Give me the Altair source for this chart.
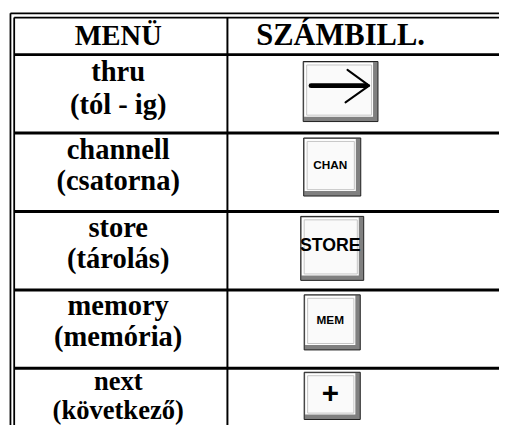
import altair as alt
import pandas as pd

# ---------------- data (table content) ----------------
headers = ["MENÜ", "SZÁMBILL."]
menu_en = ["thru", "channell", "store", "memory", "next"]
menu_hu = ["(tól - ig)", "(csatorna)", "(tárolás)", "(memória)", "(következő)"]
key_labels = ["", "CHAN", "STORE", "MEM", "+"]   # first key shows an arrow symbol

# ---------------- layout (page pixels) ----------------
W, H = 499, 417
OX, OY = 8, 8
X_OUT, X_IN = 10.5, 14.3
Y_OUT, Y_IN = 10, 14.3
X_RIGHT, Y_BOTTOM = 530, 450
HEAD_BOTTOM = 52
ROW_H = 79.7
DIV_X = 231
COL1_CX = 120
COL2_CX = 346
HEAD_BASE = 42
HEAD_FS = [29, 31]
row_fs = [29, 29, 29, 29, 27]
line1_off = [27, 26, 26, 26, 22]
line2_off = [60, 58, 57, 57, 51]
key_x0 = [308, 308.5, 305.5, 309, 309]
key_w = [76, 58, 64, 57, 57]
key_top_off = [7, 5, 5, 5, 4]
key_h = [61, 59, 65, 56, 48]
key_font = [0, 12, 18, 12, 30]

xs = alt.Scale(domain=[OX, OX + W], range=[0, W], nice=False, zero=False)
ys = alt.Scale(domain=[OY, OY + H], range=[0, H], nice=False, zero=False)

def enc_xy(**kw):
    out = {}
    for k, v in kw.items():
        if k == "x":
            out[k] = alt.X(v, type="quantitative", scale=xs, axis=None)
        elif k == "x2":
            out[k] = alt.X2(v)
        elif k == "y":
            out[k] = alt.Y(v, type="quantitative", scale=ys, axis=None)
        else:
            out[k] = alt.Y2(v)
    return out

def row_top(i):
    return HEAD_BOTTOM + i * ROW_H

# ---------------- grid lines ----------------
segs = []
segs.append(dict(x=X_OUT, x2=X_RIGHT, y=Y_OUT, y2=Y_OUT, w=1.8))
segs.append(dict(x=X_IN, x2=X_RIGHT, y=Y_IN, y2=Y_IN, w=1.8))
segs.append(dict(x=X_OUT, x2=X_OUT, y=Y_OUT, y2=Y_BOTTOM, w=1.8))
segs.append(dict(x=X_IN, x2=X_IN, y=Y_IN, y2=Y_BOTTOM, w=1.8))
segs.append(dict(x=DIV_X, x2=DIV_X, y=Y_IN, y2=Y_BOTTOM, w=2))
for i in range(len(menu_en)):
    yy = row_top(i)
    segs.append(dict(x=X_IN, x2=X_RIGHT, y=yy, y2=yy, w=3))

# ---------------- keys ----------------
boxes = []
for i, lab in enumerate(key_labels):
    x0 = key_x0[i]
    x1 = x0 + key_w[i]
    y0 = row_top(i) + key_top_off[i]
    y1 = y0 + key_h[i]
    boxes.append(dict(label=lab, x0=x0, x1=x1, y0=y0, y1=y1,
                      cx=(x0 + 1 + x1 - 5) / 2, cy=(y0 + 1 + y1 - 5) / 2,
                      fs=key_font[i]))
bdf = pd.DataFrame(boxes)
bdf["hx0"] = bdf.x0 + 1
bdf["hx1"] = bdf.x1 - 5
bdf["hy0"] = bdf.y0 + 1
bdf["hy1"] = bdf.y1 - 5
bdf["fx0"] = bdf.x0 + 3.5
bdf["fx1"] = bdf.x1 - 6.5
bdf["fy0"] = bdf.y0 + 3.5
bdf["fy1"] = bdf.y1 - 6.5

# arrow symbol on the first key (relative to its face)
ax0, ax1 = boxes[0]["x0"], boxes[0]["x1"]
acy = boxes[0]["cy"] - 4
arrow = [
    dict(x=ax0 + 8, x2=ax1 - 12, y=acy, y2=acy, w=5),
    dict(x=ax1 - 9, x2=ax1 - 31, y=acy, y2=acy - 16, w=2),
    dict(x=ax1 - 9, x2=ax1 - 33, y=acy, y2=acy + 17, w=2),
]

lines_df = pd.DataFrame(segs)
arrow_df = pd.DataFrame(arrow)

rules = alt.Chart(lines_df).mark_rule(color="black", strokeCap="butt").encode(
    **enc_xy(x="x", x2="x2", y="y", y2="y2"),
    strokeWidth=alt.StrokeWidth("w:Q", scale=None),
)

outer = alt.Chart(bdf).mark_rect(fill="#808080", stroke="#1e1e1e", strokeWidth=1).encode(
    **enc_xy(x="x0", x2="x1", y="y0", y2="y1"))
hilite = alt.Chart(bdf).mark_rect(fill="#ffffff").encode(
    **enc_xy(x="hx0", x2="hx1", y="hy0", y2="hy1"))
face = alt.Chart(bdf).mark_rect(fill="#fafafa", stroke="#c4c4c4", strokeWidth=1).encode(
    **enc_xy(x="fx0", x2="fx1", y="fy0", y2="fy1"))

arrow_rules = alt.Chart(arrow_df).mark_rule(color="black", strokeCap="round").encode(
    **enc_xy(x="x", x2="x2", y="y", y2="y2"),
    strokeWidth=alt.StrokeWidth("w:Q", scale=None),
)

key_text = alt.Chart(bdf[bdf.label != ""]).mark_text(
    font="Liberation Sans", fontWeight="bold", align="center", baseline="middle", color="black"
).encode(
    **enc_xy(x="cx", y="cy"),
    text="label:N",
    size=alt.Size("fs:Q", scale=None),
)

# ---------------- texts ----------------
tx = [dict(t=headers[0], x=COL1_CX, y=HEAD_BASE, fs=HEAD_FS[0]),
      dict(t=headers[1], x=COL2_CX, y=HEAD_BASE, fs=HEAD_FS[1])]
for i in range(len(menu_en)):
    top = row_top(i)
    tx.append(dict(t=menu_en[i], x=COL1_CX, y=top + line1_off[i], fs=row_fs[i]))
    tx.append(dict(t=menu_hu[i], x=COL1_CX, y=top + line2_off[i], fs=row_fs[i]))
tdf = pd.DataFrame(tx)

texts = alt.Chart(tdf).mark_text(
    font="Liberation Serif", fontWeight="bold", align="center",
    baseline="alphabetic", color="black"
).encode(**enc_xy(x="x", y="y"), text="t:N", size=alt.Size("fs:Q", scale=None))

chart = alt.layer(rules, outer, hilite, face, arrow_rules, key_text, texts).properties(
    width=W, height=H, padding=0, autosize=alt.AutoSizeParams(type="none"),
    background="white",
).configure_view(strokeWidth=0)

chart.save("out.html", embed_options={"renderer": "svg", "actions": False})
